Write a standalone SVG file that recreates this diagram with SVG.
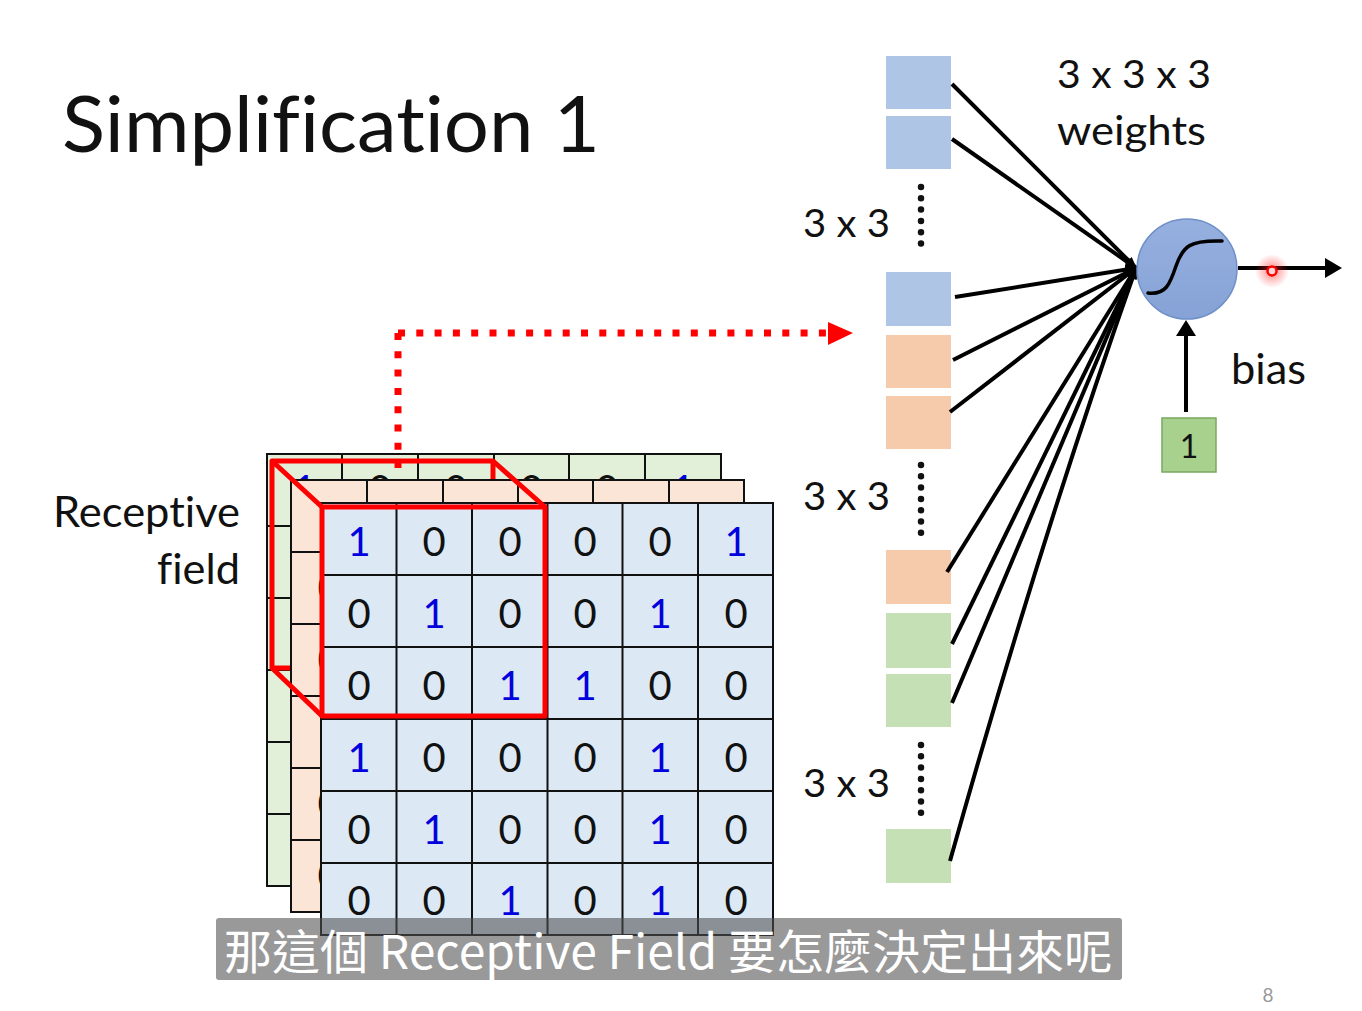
<svg xmlns="http://www.w3.org/2000/svg" width="1362" height="1011" viewBox="0 0 1362 1011">
<style>
  text{font-variant-ligatures:none;font-feature-settings:"liga" 0}
  .t{font-family:Lato,"Open Sans","Liberation Sans",sans-serif;fill:#111}
  .d{font-family:Lato,"Open Sans","Liberation Sans",sans-serif;font-size:40px;text-anchor:middle;fill:#111}
  .b{fill:#0000dd}
  .grid{fill:none;stroke:#111;stroke-width:2}
  .red{fill:none;stroke:#ff0000;stroke-width:5;stroke-linejoin:round}
  .dot{fill:none;stroke:#ff0000;stroke-width:7;stroke-dasharray:7 11.3}
  .conn{stroke:#000;stroke-width:4;fill:none}
  .vd{fill:none;stroke:#111;stroke-width:6.5;stroke-linecap:round;stroke-dasharray:0 11.3}
  .wb{fill:#afc5e6}.wo{fill:#f6cbab}.wg{fill:#c6e0b5}
</style>
<defs>
  <marker id="ah" viewBox="0 0 10 8" refX="9" refY="4" markerWidth="12" markerHeight="10" markerUnits="userSpaceOnUse" orient="auto">
    <path d="M0,0 L10,4 L0,8 z" fill="#000"/>
  </marker>
  <radialGradient id="glow">
    <stop offset="0" stop-color="#ff2020" stop-opacity="0.55"/>
    <stop offset="1" stop-color="#ff2020" stop-opacity="0"/>
  </radialGradient>
  <linearGradient id="neu" x1="0" y1="0" x2="0" y2="1">
    <stop offset="0" stop-color="#96b0df"/>
    <stop offset="1" stop-color="#86a2d6"/>
  </linearGradient>
</defs>
<rect width="1362" height="1011" fill="#fff"/>

<text id="title" class="t" x="62" y="152" font-size="78" textLength="538" lengthAdjust="spacingAndGlyphs">Simplification 1</text>

<g id="rf-label">
  <text class="t" x="53" y="527" font-size="42" textLength="187" lengthAdjust="spacingAndGlyphs">Receptive</text>
  <text class="t" x="157" y="584" font-size="42" textLength="83" lengthAdjust="spacingAndGlyphs">field</text>
</g>

<!-- green channel -->
<g id="sheet-green">
  <rect x="267" y="454" width="454" height="432" fill="#e2f0d9"/>
  <rect x="267" y="454" width="454" height="432" class="grid"/>
  <path class="grid" d="M342,454V886M418,454V886M494,454V886M569,454V886M645,454V886M267,526H721M267,598H721M267,670H721M267,742H721M267,814H721"/>
  <text class="d b" x="304.5" y="504">1</text>
  <text class="d" x="380" y="504">0</text>
  <text class="d" x="456" y="504">0</text>
  <text class="d" x="531.5" y="504">0</text>
  <text class="d" x="607" y="504">0</text>
  <text class="d b" x="683" y="504">1</text>
</g>

<g id="rf-back">
  <rect class="red" x="272" y="461" width="221" height="207"/>
</g>

<g id="pointer-arrow">
  <path class="dot" d="M398,333 V500"/>
  <path class="dot" d="M398,333 H826"/>
  <polygon points="828,322 853,333 828,345" fill="#ff0000"/>
</g>

<!-- orange channel -->
<g id="sheet-orange">
  <rect x="291" y="480" width="453" height="432" fill="#fbe5d6"/>
  <rect x="291" y="480" width="453" height="432" class="grid"/>
  <path class="grid" d="M367,480V912M443,480V912M518,480V912M593,480V912M669,480V912M291,552H744M291,624H744M291,696H744M291,768H744M291,840H744"/>
  <text class="d" x="329" y="602">0</text>
  <text class="d" x="329" y="674">0</text>
  <text class="d" x="329" y="818">0</text>
  <text class="d" x="329" y="890">0</text>
</g>

<!-- blue channel -->
<g id="sheet-blue">
  <rect x="321" y="503" width="452" height="432" fill="#dce9f5"/>
  <rect x="321" y="503" width="452" height="432" class="grid"/>
  <path class="grid" d="M396.5,503V935M472,503V935M547.5,503V935M622.5,503V935M698,503V935M321,575H773M321,647H773M321,719H773M321,791H773M321,863H773"/>
  <text class="d b" x="359" y="556">1</text><text class="d" x="434" y="556">0</text><text class="d" x="510" y="556">0</text><text class="d" x="585" y="556">0</text><text class="d" x="660" y="556">0</text><text class="d b" x="736" y="556">1</text>
  <text class="d" x="359" y="628">0</text><text class="d b" x="434" y="628">1</text><text class="d" x="510" y="628">0</text><text class="d" x="585" y="628">0</text><text class="d b" x="660" y="628">1</text><text class="d" x="736" y="628">0</text>
  <text class="d" x="359" y="700">0</text><text class="d" x="434" y="700">0</text><text class="d b" x="510" y="700">1</text><text class="d b" x="585" y="700">1</text><text class="d" x="660" y="700">0</text><text class="d" x="736" y="700">0</text>
  <text class="d b" x="359" y="772">1</text><text class="d" x="434" y="772">0</text><text class="d" x="510" y="772">0</text><text class="d" x="585" y="772">0</text><text class="d b" x="660" y="772">1</text><text class="d" x="736" y="772">0</text>
  <text class="d" x="359" y="844">0</text><text class="d b" x="434" y="844">1</text><text class="d" x="510" y="844">0</text><text class="d" x="585" y="844">0</text><text class="d b" x="660" y="844">1</text><text class="d" x="736" y="844">0</text>
  <text class="d" x="359" y="915">0</text><text class="d" x="434" y="915">0</text><text class="d b" x="510" y="915">1</text><text class="d" x="585" y="915">0</text><text class="d b" x="660" y="915">1</text><text class="d" x="736" y="915">0</text>
</g>

<g id="rf-front">
  <rect class="red" x="322" y="507" width="223" height="209"/>
  <path class="red" d="M272,461 L322,507 M493,461 L545,507 M272,668 L322,716"/>
</g>

<!-- weight column -->
<g id="weights">
  <rect class="wb" x="886" y="56" width="65" height="53"/>
  <rect class="wb" x="886" y="116" width="65" height="53"/>
  <path class="vd" d="M921,187 V254"/>
  <rect class="wb" x="886" y="272" width="65" height="54"/>
  <rect class="wo" x="886" y="335" width="65" height="53"/>
  <rect class="wo" x="886" y="396" width="65" height="53"/>
  <path class="vd" d="M921,465 V533"/>
  <rect class="wo" x="886" y="550" width="65" height="54"/>
  <rect class="wg" x="886" y="613" width="65" height="55"/>
  <rect class="wg" x="886" y="674" width="65" height="53"/>
  <path class="vd" d="M921,745 V813"/>
  <rect class="wg" x="886" y="829" width="65" height="54"/>
</g>

<g id="dim-labels">
  <text class="t" x="803" y="237" font-size="38" textLength="87" lengthAdjust="spacingAndGlyphs">3 x 3</text>
  <text class="t" x="803" y="510" font-size="38" textLength="87" lengthAdjust="spacingAndGlyphs">3 x 3</text>
  <text class="t" x="803" y="797" font-size="38" textLength="87" lengthAdjust="spacingAndGlyphs">3 x 3</text>
  <text class="t" x="1057" y="88" font-size="38" textLength="154" lengthAdjust="spacingAndGlyphs">3 x 3 x 3</text>
  <text class="t" x="1057" y="145" font-size="40" textLength="149" lengthAdjust="spacingAndGlyphs">weights</text>
</g>

<g id="connectors">
  <line class="conn" x1="952" y1="84" x2="1136" y2="268" marker-end="url(#ah)"/>
  <line class="conn" x1="952" y1="139" x2="1136" y2="268" marker-end="url(#ah)"/>
  <line class="conn" x1="955" y1="297" x2="1136" y2="268" marker-end="url(#ah)"/>
  <line class="conn" x1="953" y1="360" x2="1136" y2="268" marker-end="url(#ah)"/>
  <line class="conn" x1="950" y1="412" x2="1136" y2="268" marker-end="url(#ah)"/>
  <line class="conn" x1="947" y1="572" x2="1136" y2="268" marker-end="url(#ah)"/>
  <line class="conn" x1="952" y1="644" x2="1136" y2="268" marker-end="url(#ah)"/>
  <line class="conn" x1="952" y1="703" x2="1136" y2="268" marker-end="url(#ah)"/>
  <path class="conn" d="M950,861 Q1040,540 1136,268" marker-end="url(#ah)"/>
  <line class="conn" x1="1238" y1="268" x2="1328" y2="268"/>
  <polygon points="1325,258 1342,268 1325,278" fill="#000"/>
  <line class="conn" x1="1186" y1="412" x2="1186" y2="332"/>
  <polygon points="1176,336 1186,320 1196,336" fill="#000"/>
</g>

<g id="neuron">
  <circle cx="1187" cy="269" r="50" fill="url(#neu)" stroke="#6f90c9" stroke-width="1.5"/>
  <path d="M1148,293 C1166,295 1170,284 1176,266 C1183,246 1190,240 1222,241" fill="none" stroke="#000" stroke-width="3.5" stroke-linecap="round"/>
</g>

<g id="bias">
  <rect x="1162" y="418" width="54" height="54" fill="#a9d18e" stroke="#7aa860" stroke-width="1.5"/>
  <text class="t" x="1189" y="458" font-size="32" text-anchor="middle">1</text>
  <text class="t" x="1231" y="384" font-size="42" textLength="75" lengthAdjust="spacingAndGlyphs">bias</text>
</g>

<g id="laser">
  <circle cx="1272" cy="271" r="17" fill="url(#glow)"/>
  <circle cx="1272" cy="271" r="4.5" fill="#ffd6d6" stroke="#ff0000" stroke-width="2.5"/>
</g>

<g id="subtitle">
  <rect x="216" y="918" width="906" height="62" rx="3" fill="#505050" fill-opacity="0.58"/>
  <text x="224" y="969" font-size="47" fill="#fff" font-family="'Noto Sans CJK TC','Noto Sans',sans-serif" textLength="888" lengthAdjust="spacingAndGlyphs">那這個 Receptive Field 要怎麼決定出來呢</text>
</g>

<text id="page" x="1268" y="1002" font-size="19" fill="#999" text-anchor="middle" font-family="Lato,'Liberation Sans',sans-serif">8</text>
</svg>
